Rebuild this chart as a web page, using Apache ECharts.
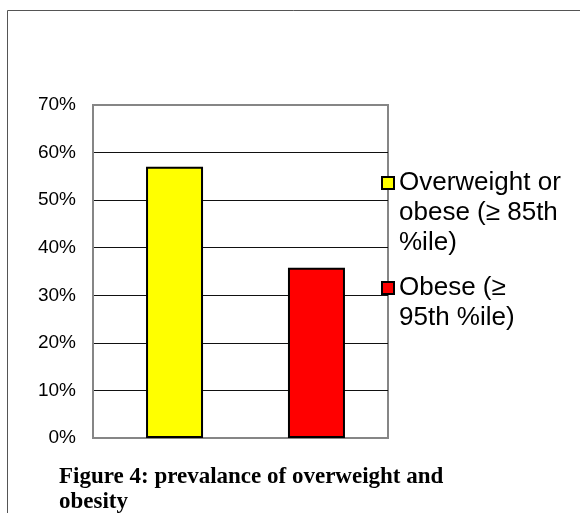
<!DOCTYPE html>
<html>
<head>
<meta charset="utf-8">
<script src="https://cdn.jsdelivr.net/npm/echarts@6/dist/echarts.min.js"></script>
<style>
  html, body { margin: 0; padding: 0; background: #fff; }
  #chart { width: 580px; height: 513px; }
</style>
</head>
<body>
<div id="chart"></div>
<script>
const categories = [''];
const seriesNames = ['Overweight or\nobese (≥ 85th\n%ile)', 'Obese (≥\n95th %ile)'];
const overweightValues = [57.0];
const obeseValues = [35.8];
const yMin = 0, yMax = 70, yInterval = 10;
const titleText = 'Figure 4: prevalance of overweight and\nobesity';

// put the icon level with the first text line: pad the top with blank lines
function firstLineAligned(name) {
  const n = name.split('\n').length;
  return '\n'.repeat(n - 1) + name;
}

const chart = echarts.init(document.getElementById('chart'), null, { renderer: 'canvas' });
const legendFont = { fontFamily: 'Liberation Sans', fontSize: 26, color: '#000', lineHeight: 30 };
const option = {
  animation: false,
  backgroundColor: '#fff',
  title: {
    text: titleText,
    left: 59, top: 465, padding: 0,
    textStyle: { fontFamily: 'Liberation Serif', fontWeight: 'bold', fontSize: 23, lineHeight: 25, color: '#000' }
  },
  graphic: [
    { type: 'polyline', silent: true, shape: { points: [[7.5, 513], [7.5, 10.5], [580, 10.5]] },
      style: { stroke: '#555', lineWidth: 1, fill: null } }
  ],
  grid: [
    // visible plot frame with axes and gridlines
    { left: 93, top: 105, right: 192, bottom: 75, show: true, borderColor: '#868686', borderWidth: 2, containLabel: false },
    // bar placement band (bars in the source sit slightly right of centre)
    { left: 103, top: 105, right: 192, bottom: 75, show: false, containLabel: false }
  ],
  xAxis: [
    { gridIndex: 0, type: 'category', data: categories,
      axisLine: { show: true, lineStyle: { color: '#868686', width: 2 } },
      axisTick: { show: false }, axisLabel: { show: false }, splitLine: { show: false } },
    { gridIndex: 1, type: 'category', data: categories, show: false }
  ],
  yAxis: [
    { gridIndex: 0, type: 'value', min: yMin, max: yMax, interval: yInterval,
      axisLine: { show: true, lineStyle: { color: '#868686', width: 2 } },
      axisTick: { show: false },
      axisLabel: { formatter: '{value}%', fontFamily: 'Liberation Sans', fontSize: 19, color: '#000', margin: 17 },
      splitLine: { show: true, showMinLine: false, showMaxLine: false, lineStyle: { color: '#111', width: 1 } } },
    { gridIndex: 1, type: 'value', min: yMin, max: yMax, interval: yInterval, show: false, splitLine: { show: false } }
  ],
  legend: [
    { orient: 'vertical', left: 381, top: 108, padding: 0, icon: 'rect', itemWidth: 12, itemHeight: 12,
      textStyle: legendFont, selectedMode: false, formatter: firstLineAligned,
      data: [seriesNames[0]] },
    { orient: 'vertical', left: 381, top: 243, padding: 0, icon: 'rect', itemWidth: 12, itemHeight: 12,
      textStyle: legendFont, selectedMode: false, formatter: firstLineAligned,
      data: [seriesNames[1]] }
  ],
  series: [
    { name: seriesNames[0], type: 'bar', xAxisIndex: 1, yAxisIndex: 1, data: overweightValues, barWidth: 57, barGap: '149%',
      itemStyle: { color: '#FFFF00', borderColor: '#000', borderWidth: 2 } },
    { name: seriesNames[1], type: 'bar', xAxisIndex: 1, yAxisIndex: 1, data: obeseValues, barWidth: 57, barGap: '149%',
      itemStyle: { color: '#FF0000', borderColor: '#000', borderWidth: 2 } }
  ]
};
chart.setOption(option);
</script>
</body>
</html>
